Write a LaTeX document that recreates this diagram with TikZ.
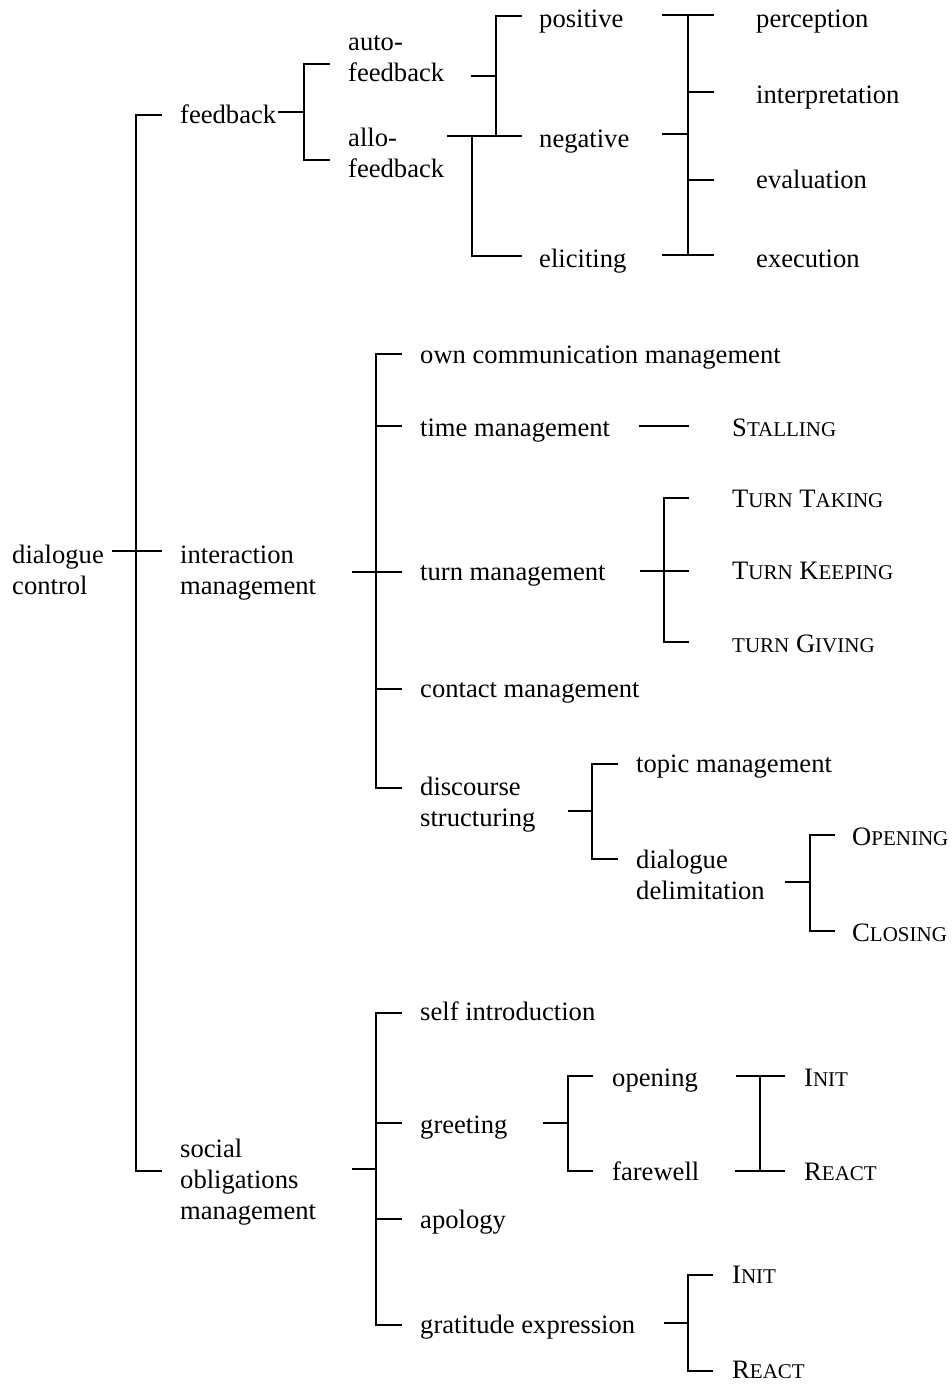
\documentclass[tikz,border=0pt]{standalone}
\usepackage{fontspec}
\setmainfont{Liberation Serif}
% reduced capitals for the small-caps labels
\newcommand\smc[1]{{\fontsize{21}{31}\selectfont #1}}
\newcommand\twoline[2]{\begin{tabular}[t]{@{}l@{}}#1\\#2\end{tabular}}
\newcommand\threeline[3]{\begin{tabular}[t]{@{}l@{}}#1\\#2\\#3\end{tabular}}
\tikzset{
  lbl/.style={anchor=base west, inner sep=0pt, font=\fontsize{26.6}{31}\selectfont},
  br/.style={line width=1.8pt, line cap=rect},
  stub/.style={line width=2.8pt},
}
\begin{document}
\begin{tikzpicture}[x=1pt,y=-1pt]
\useasboundingbox (0,0) rectangle (951,1384);
\renewcommand\arraystretch{1}

% ---------- labels ----------
\node[lbl] (dc)  at (12,563)  {\twoline{dialogue}{control}};
\node[lbl] (fb)  at (180,123) {feedback};
\node[lbl] (im)  at (180,563) {\twoline{interaction}{management}};
\node[lbl] (som) at (180,1157){\threeline{social}{obligations}{management}};

\node[lbl] (afb) at (348,50)  {\twoline{auto-}{feedback}};
\node[lbl] (lfb) at (348,146) {\twoline{allo-}{feedback}};
\node[lbl] (pos) at (539,27)  {positive};
\node[lbl] (neg) at (539,147) {negative};
\node[lbl] (eli) at (539,267) {eliciting};
\node[lbl] (per) at (756,27)  {perception};
\node[lbl] (int) at (756,103) {interpretation};
\node[lbl] (eva) at (756,188) {evaluation};
\node[lbl] (exe) at (756,267) {execution};

\node[lbl] (ocm) at (420,363) {own communication management};
\node[lbl] (tim) at (420,436) {time management};
\node[lbl] (tur) at (420,580) {turn management};
\node[lbl] (con) at (420,697) {contact management};
\node[lbl] (dst) at (420,795) {\twoline{discourse}{structuring}};
\node[lbl] (sta) at (732,436) {S\smc{TALLING}};
\node[lbl] (tta) at (732,507) {T\smc{URN} T\smc{AKING}};
\node[lbl] (tke) at (732,579) {T\smc{URN} K\smc{EEPING}};
\node[lbl] (tgi) at (732,652) {\smc{TURN} G\smc{IVING}};
\node[lbl] (top) at (636,772) {topic management};
\node[lbl] (ddl) at (636,868) {\twoline{dialogue}{delimitation}};
\node[lbl] (ope) at (852,845) {O\smc{PENING}};
\node[lbl] (clo) at (852,941) {C\smc{LOSING}};

\node[lbl] (sin) at (420,1020) {self introduction};
\node[lbl] (gre) at (420,1133) {greeting};
\node[lbl] (apo) at (420,1228) {apology};
\node[lbl] (gra) at (420,1333) {gratitude expression};
\node[lbl] (gop) at (612,1086) {opening};
\node[lbl] (gfa) at (612,1180) {farewell};
\node[lbl] (in1) at (804,1086) {I\smc{NIT}};
\node[lbl] (re1) at (804,1180) {R\smc{EACT}};
\node[lbl] (in2) at (732,1283) {I\smc{NIT}};
\node[lbl] (re2) at (732,1378) {R\smc{EACT}};

% ---------- brackets ----------
% dialogue control
\draw[stub] (112,551) -- (136,551);
\draw[br] (161,115) -- (136,115) -- (136,1171) -- (161,1171);
\draw[br] (136,551) -- (161,551);

% feedback
\draw[br] (279,112) -- (304,112);
\draw[br] (329,64) -- (304,64) -- (304,160) -- (329,160);

% auto- / allo-feedback
\draw[br] (472,76) -- (496,76);
\draw[br] (521,16) -- (496,16) -- (496,136);
\draw[br] (448,136) -- (521,136);
\draw[br] (472,136) -- (472,256) -- (521,256);

% levels of processing
\draw[br] (688,15) -- (688,255);
\draw[br] (663,15) -- (713,15);
\draw[br] (688,92) -- (713,92);
\draw[br] (663,134) -- (688,134);
\draw[br] (688,180) -- (713,180);
\draw[br] (663,255) -- (713,255);

% interaction management
\draw[stub] (352,572) -- (376,572);
\draw[br] (401,354) -- (376,354) -- (376,788) -- (401,788);
\draw[br] (376,426) -- (401,426);
\draw[br] (376,572) -- (401,572);
\draw[br] (376,689) -- (401,689);

% time management
\draw[br] (640,426) -- (688,426);

% turn management
\draw[stub] (640,571) -- (664,571);
\draw[br] (688,498) -- (664,498) -- (664,642) -- (688,642);
\draw[br] (664,571) -- (688,571);

% discourse structuring
\draw[stub] (568,811) -- (592,811);
\draw[br] (617,764) -- (592,764) -- (592,859) -- (617,859);

% dialogue delimitation
\draw[stub] (785,882) -- (810,882);
\draw[br] (834,835) -- (810,835) -- (810,931) -- (834,931);

% social obligations management
\draw[stub] (352,1169) -- (376,1169);
\draw[br] (401,1013) -- (376,1013) -- (376,1325) -- (401,1325);
\draw[br] (376,1123) -- (401,1123);
\draw[br] (376,1219) -- (401,1219);

% greeting
\draw[stub] (543,1123) -- (568,1123);
\draw[br] (592,1076) -- (568,1076) -- (568,1171) -- (592,1171);

% opening / farewell
\draw[stub] (736,1076) -- (760,1076);
\draw[br] (736,1171) -- (760,1171);
\draw[br] (784,1076) -- (760,1076) -- (760,1171) -- (784,1171);

% gratitude expression
\draw[stub] (664,1323) -- (688,1323);
\draw[br] (712,1275) -- (688,1275) -- (688,1371) -- (712,1371);
\end{tikzpicture}
\end{document}
